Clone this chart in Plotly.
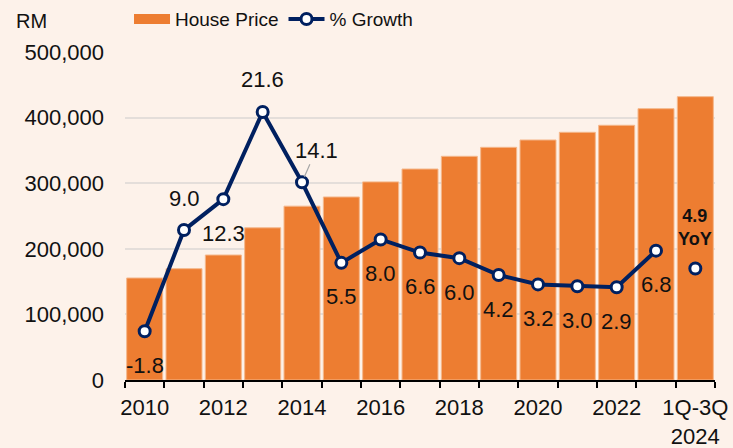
import plotly.graph_objects as go

# Average house price (RM) and annual % growth
categories = ["2010", "2011", "2012", "2013", "2014", "2015", "2016", "2017",
              "2018", "2019", "2020", "2021", "2022", "2023", "1Q-3Q<br>2024"]
tick_labels = ["2010", "", "2012", "", "2014", "", "2016", "", "2018", "",
               "2020", "", "2022", "", "1Q-3Q<br>2024"]
house_price = [155500, 169700, 190500, 232000, 265000, 279000, 302000, 321600,
               341000, 354700, 365900, 377600, 388300, 413600, 431900]
growth = [-1.8, 9.0, 12.3, 21.6, 14.1, 5.5, 8.0, 6.6, 6.0, 4.2, 3.2, 3.0, 2.9, 6.8, 4.9]

# label placement for each growth value
placement = ["below", "above", "below", "above", "leader", "below", "below", "below",
             "below", "below", "below", "below", "below", "below", "yoy"]

BG = "#FDF2EA"
ORANGE = "#ED7D31"
NAVY = "#002060"
TEXT = "#111111"
FONT = "Liberation Sans, Arial, sans-serif"

marker_style = dict(size=11, color="white", line=dict(color=NAVY, width=3))

fig = go.Figure()
fig.add_trace(go.Bar(
    x=categories, y=house_price, name="House Price", showlegend=False,
    marker=dict(color=ORANGE, line=dict(color="#F5B88C", width=1)),
))
# legend swatch for the bars: a thick orange bar-like stroke
fig.add_trace(go.Scatter(
    x=[None], y=[None], name="House Price", mode="lines",
    line=dict(color=ORANGE, width=13),
))
fig.add_trace(go.Scatter(
    x=categories[:-1], y=growth[:-1], yaxis="y2", name="% Growth",
    mode="lines+markers", line=dict(color=NAVY, width=4), marker=marker_style,
))
fig.add_trace(go.Scatter(
    x=categories[-1:], y=growth[-1:], yaxis="y2", showlegend=False,
    mode="markers", marker=marker_style,
))

annotations = []
for i, (val, where) in enumerate(zip(growth, placement)):
    base = dict(x=i, y=val, xref="x", yref="y2",
                font=dict(family=FONT, size=22, color=TEXT))
    if where == "below":
        annotations.append(dict(base, text=f"{val:.1f}", showarrow=False, yshift=-34))
    elif where == "above":
        annotations.append(dict(base, text=f"{val:.1f}", showarrow=False, yshift=32))
    elif where == "leader":
        annotations.append(dict(base, text=f"{val:.1f}", showarrow=True, ax=14, ay=-32,
                                arrowhead=0, arrowwidth=1.2, arrowcolor="#A6A6A6", standoff=6))
    else:
        annotations.append(dict(base, text=f"<b>{val:.1f}<br>YoY</b>", showarrow=False,
                                yshift=41, font=dict(family=FONT, size=18, color=TEXT)))

annotations.append(dict(text="RM", xref="paper", yref="paper", x=-0.188, y=1.095,
                        xanchor="left", yanchor="middle", showarrow=False,
                        font=dict(family=FONT, size=20, color=TEXT)))

fig.update_layout(
    width=733, height=448,
    margin=dict(l=125, r=18, t=52, b=68, autoexpand=False),
    paper_bgcolor=BG, plot_bgcolor=BG,
    font=dict(family=FONT, size=22, color=TEXT),
    bargap=0.085,
    showlegend=True,
    legend=dict(orientation="h", x=0.0068, xanchor="left", y=1.1, yanchor="middle",
                font=dict(family=FONT, size=19, color=TEXT), bgcolor="rgba(0,0,0,0)",
                itemwidth=36),
    xaxis=dict(type="category", tickmode="array", tickvals=categories, ticktext=tick_labels,
               tickson="boundaries", ticks="outside", ticklen=6, tickwidth=1.5, tickcolor="black",
               showline=True, linecolor="black", linewidth=2, showgrid=False, tickangle=0,
               automargin=False, ticklabelstandoff=7,
               range=[-0.5, len(categories) - 0.5], tickfont=dict(size=22)),
    yaxis=dict(range=[0, 500000], tickmode="array", tickvals=list(range(0, 500001, 100000)),
               tickformat=",", showgrid=True, gridcolor="#E4DEDA", gridwidth=1.5,
               automargin=False, zeroline=False, ticklabelstandoff=20, tickfont=dict(size=22)),
    yaxis2=dict(overlaying="y", range=[-7, 28], visible=False),
    annotations=annotations,
)

fig.write_html("out.html")
